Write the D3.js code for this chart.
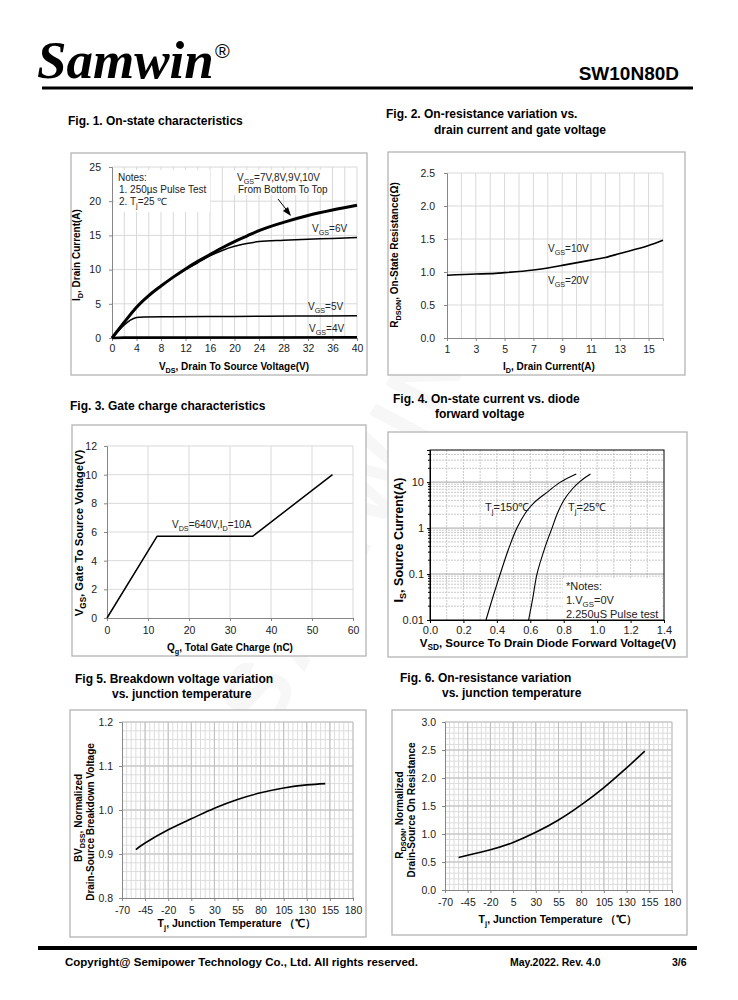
<!DOCTYPE html>
<html>
<head>
<meta charset="utf-8">
<script src="https://cdn.jsdelivr.net/npm/d3@7"></script>
<style>
body { margin: 0; background: #fff; }
</style>
</head>
<body>
<svg id="page" width="738" height="1000"></svg>
<script>
// ---- data ----
// Fig 1: on-state characteristics
var fig1Vds       = [0, 2, 4, 6, 8, 10, 12, 14, 16, 18, 20, 22, 24, 28, 32, 36, 40];
var fig1Vgs7to10  = [0, 2.3, 4.5, 6.2, 7.6, 8.9, 10.1, 11.2, 12.2, 13.2, 14.1, 14.9, 15.7, 16.9, 17.9, 18.7, 19.4];
var fig1Vgs6      = [0, 2.3, 4.4, 6.2, 7.6, 8.9, 10.0, 11.0, 12.0, 12.8, 13.4, 13.8, 14.1, 14.3, 14.45, 14.55, 14.7];
var fig1Vgs5Vds   = [0, 1, 2, 3, 4, 4.5, 10, 20, 30, 40];
var fig1Vgs5      = [0, 1.0, 1.9, 2.6, 3.0, 3.05, 3.1, 3.15, 3.2, 3.25];
var fig1Vgs4Vds   = [0, 2, 40];
var fig1Vgs4      = [0, 0.05, 0.1];
var fig1XTicks    = [0, 4, 8, 12, 16, 20, 24, 28, 32, 36, 40];
var fig1YTicks    = [0, 5, 10, 15, 20, 25];

// Fig 2: Rds(on) vs drain current
var fig2Id        = [1, 3, 4, 5, 7, 8, 9, 11, 12, 13, 15, 16];
var fig2Rds       = [0.95, 0.97, 0.975, 0.99, 1.03, 1.06, 1.1, 1.18, 1.22, 1.28, 1.4, 1.48];
var fig2XTicks    = [1, 3, 5, 7, 9, 11, 13, 15];
var fig2YTicks    = [0, 0.5, 1.0, 1.5, 2.0, 2.5];

// Fig 3: gate charge
var fig3Qg        = [0, 12.2, 35.5, 55];
var fig3Vgs       = [0, 5.7, 5.7, 10];
var fig3XTicks    = [0, 10, 20, 30, 40, 50, 60];
var fig3YTicks    = [0, 2, 4, 6, 8, 10, 12];

// Fig 4: body diode forward voltage
var fig4Vsd150    = [0.335, 0.38, 0.42, 0.47, 0.52, 0.57, 0.62, 0.70, 0.78, 0.875];
var fig4Is150     = [0.01, 0.035, 0.1, 0.35, 1, 2.1, 3.5, 6, 10, 15];
var fig4Vsd25     = [0.59, 0.615, 0.64, 0.69, 0.73, 0.76, 0.80, 0.85, 0.90, 0.96];
var fig4Is25      = [0.01, 0.03, 0.1, 0.4, 1, 2, 4, 7, 10.5, 15];
var fig4XTicks    = [0, 0.2, 0.4, 0.6, 0.8, 1.0, 1.2, 1.4];
var fig4YTicks    = [0.01, 0.1, 1, 10];

// Fig 5 / Fig 6: vs junction temperature
var tempTj        = [-55, -45, -20, 5, 30, 55, 80, 105, 130, 150];
var fig5BvNorm    = [0.91, 0.925, 0.955, 0.98, 1.004, 1.024, 1.039, 1.05, 1.057, 1.06];
var fig6RdsNorm   = [0.58, 0.62, 0.72, 0.85, 1.03, 1.25, 1.52, 1.83, 2.18, 2.48];
var tempXTicks    = [-70, -45, -20, 5, 30, 55, 80, 105, 130, 155, 180];
var fig5YTicks    = [0.8, 0.9, 1.0, 1.1, 1.2];
var fig6YTicks    = [0, 0.5, 1.0, 1.5, 2.0, 2.5, 3.0];

var SANS = "'Liberation Sans', Arial, sans-serif";

var svg = d3.select("#page");

// text with optional subscript pieces: parts = ["I", ["D","sub"], ", Drain..."]
function richText(parent, x, y, parts, size, opts) {
    opts = opts || {};
    var t = parent.append("text")
        .attr("x", x)
        .attr("y", y)
        .attr("font-size", size)
        .attr("font-family", SANS)
        .attr("font-weight", opts.weight || "normal")
        .attr("text-anchor", opts.anchor || "start")
        .attr("fill", opts.fill || "#000");
    if (opts.rotate) t.attr("transform", "rotate(" + opts.rotate + "," + x + "," + y + ")");
    var shift = 0;
    parts.forEach(function(p) {
        var str = typeof p === "string" ? p : p[0];
        var sub = typeof p !== "string" && p[1] === "sub";
        var s = t.append("tspan").text(str);
        if (sub) {
            s.attr("font-size", size * 0.72).attr("dy", size * 0.25 - shift);
            shift = size * 0.25;
        } else if (shift) {
            s.attr("dy", -shift);
            shift = 0;
        }
    });
    return t;
}

function drawBox(x0, y0, x1, y1) {
    svg.append("rect")
        .attr("x", x0).attr("y", y0)
        .attr("width", x1 - x0).attr("height", y1 - y0)
        .attr("fill", "#fff")
        .attr("stroke", "#b4b4b4")
        .attr("stroke-width", 1.3);
}

function vGrid(g, x, y, values, color, dash, width) {
    g.selectAll(null).data(values).enter().append("line")
        .attr("x1", function(d) { return x(d); })
        .attr("x2", function(d) { return x(d); })
        .attr("y1", y.range()[0])
        .attr("y2", y.range()[1])
        .attr("stroke", color)
        .attr("stroke-width", width || 1)
        .attr("stroke-dasharray", dash || null);
}

function hGrid(g, x, y, values, color, dash, width) {
    g.selectAll(null).data(values).enter().append("line")
        .attr("y1", function(d) { return y(d); })
        .attr("y2", function(d) { return y(d); })
        .attr("x1", x.range()[0])
        .attr("x2", x.range()[1])
        .attr("stroke", color)
        .attr("stroke-width", width || 1)
        .attr("stroke-dasharray", dash || null);
}

function curve(g, x, y, xs, ys, width, interp) {
    var pts = xs.map(function(d, i) { return [d, ys[i]]; });
    g.append("path")
        .datum(pts)
        .attr("fill", "none")
        .attr("stroke", "#000")
        .attr("stroke-width", width || 1.5)
        .attr("stroke-linejoin", "round")
        .attr("d", d3.line()
            .x(function(d) { return x(d[0]); })
            .y(function(d) { return y(d[1]); })
            .curve(interp || d3.curveLinear));
}

function styleAxis(a, size, color) {
    a.select(".domain").attr("stroke", color || "#868686");
    a.selectAll(".tick line").attr("stroke", color || "#868686");
    a.selectAll(".tick text")
        .attr("font-size", size)
        .attr("font-family", SANS)
        .attr("fill", "#222");
}

function plain(d) { return String(d); }

// ---------------- header ----------------
svg.append("text")
    .attr("x", 37).attr("y", 78)
    .attr("font-family", "'Liberation Serif', 'Times New Roman', serif")
    .attr("font-style", "italic")
    .attr("font-weight", "bold")
    .attr("font-size", 53)
    .text("Samwin");
svg.append("text")
    .attr("x", 215).attr("y", 58)
    .attr("font-family", SANS)
    .attr("font-size", 20)
    .text("®");
svg.append("text")
    .attr("x", 679).attr("y", 80)
    .attr("text-anchor", "end")
    .attr("font-family", SANS)
    .attr("font-weight", "bold")
    .attr("font-size", 19)
    .text("SW10N80D");
svg.append("line")
    .attr("x1", 42).attr("x2", 693).attr("y1", 88).attr("y2", 88)
    .attr("stroke", "#000").attr("stroke-width", 3);

// ---------------- figure titles ----------------
function title(x, y, str) {
    svg.append("text").attr("x", x).attr("y", y)
        .attr("font-family", SANS).attr("font-weight", "bold")
        .attr("font-size", 12).text(str);
}
title(68, 125, "Fig. 1. On-state characteristics");
title(386, 118, "Fig. 2. On-resistance variation vs.");
title(434, 134, "drain current and gate voltage");
title(70, 410, "Fig. 3. Gate charge characteristics");
title(393, 403, "Fig. 4. On-state current vs. diode");
title(435, 418, "forward voltage");
title(75, 683, "Fig 5. Breakdown voltage variation");
title(112, 698, "vs. junction temperature");
title(400, 682, "Fig. 6. On-resistance variation");
title(442, 697, "vs. junction temperature");

// faint watermark, under the white figure boxes mostly
svg.append("text")
    .attr("transform", "translate(372,545) rotate(-62)")
    .attr("text-anchor", "middle")
    .attr("font-family", SANS)
    .attr("font-weight", "bold")
    .attr("font-size", 92)
    .attr("letter-spacing", 8)
    .attr("fill", "#000")
    .attr("fill-opacity", 0.03)
    .text("SAMWIN");

// ---------------- Fig 1 ----------------
drawBox(71, 153, 367, 375);
var g1 = svg.append("g");
var x1 = d3.scaleLinear().domain([0, 40]).range([112, 357]);
var y1 = d3.scaleLinear().domain([0, 25]).range([338, 167]);
vGrid(g1, x1, y1, d3.range(2, 41, 2), "#d9d9d9");
hGrid(g1, x1, y1, [5, 10, 15, 20, 25], "#d9d9d9");
// white panels behind the notes
g1.append("rect").attr("x", 114).attr("y", 170).attr("width", 96).attr("height", 42).attr("fill", "#fff");
g1.append("rect").attr("x", 233).attr("y", 170).attr("width", 96).attr("height", 25).attr("fill", "#fff");
var ax1 = g1.append("g").attr("transform", "translate(0,338)")
    .call(d3.axisBottom(x1).tickValues(fig1XTicks).tickSize(3).tickPadding(4));
styleAxis(ax1, 10.5);
var ay1 = g1.append("g").attr("transform", "translate(112,0)")
    .call(d3.axisLeft(y1).tickValues(fig1YTicks).tickSize(3).tickPadding(8));
styleAxis(ay1, 10.5);
curve(g1, x1, y1, fig1Vgs4Vds, fig1Vgs4, 2.6);
curve(g1, x1, y1, fig1Vgs5Vds, fig1Vgs5, 1.5, d3.curveMonotoneX);
curve(g1, x1, y1, fig1Vds, fig1Vgs6, 1.5, d3.curveMonotoneX);
curve(g1, x1, y1, fig1Vds, fig1Vgs7to10, 3, d3.curveMonotoneX);
// arrow
g1.append("line").attr("x1", 278).attr("y1", 199).attr("x2", 289).attr("y2", 213)
    .attr("stroke", "#000").attr("stroke-width", 1);
g1.append("path").attr("d", "M291,216 L283,211 L288,207 Z").attr("fill", "#000");
richText(g1, 118, 181, ["Notes:"], 10, {fill: "#222"});
richText(g1, 119, 193, ["1. 250µs  Pulse Test"], 10, {fill: "#222"});
richText(g1, 119, 205, ["2. T", ["j", "sub"], "=25 ℃"], 10, {fill: "#222"});
richText(g1, 237, 181, ["V", ["GS", "sub"], "=7V,8V,9V,10V"], 10, {fill: "#222"});
richText(g1, 238, 193, ["From Bottom To Top"], 10, {fill: "#222"});
richText(g1, 312, 232, ["V", ["GS", "sub"], "=6V"], 10, {fill: "#222"});
richText(g1, 308, 310, ["V", ["GS", "sub"], "=5V"], 10, {fill: "#222"});
richText(g1, 309, 332, ["V", ["GS", "sub"], "=4V"], 10, {fill: "#222"});
richText(g1, 234, 370, ["V", ["DS", "sub"], ", Drain To Source Voltage(V)"], 10, {weight: "bold", anchor: "middle"});
richText(g1, 80, 255, ["I", ["D", "sub"], ",  Drain Current(A)"], 10, {weight: "bold", anchor: "middle", rotate: -90});

// ---------------- Fig 2 ----------------
drawBox(388, 152, 685, 375);
var g2 = svg.append("g");
var x2 = d3.scaleLinear().domain([1, 16]).range([447, 663]);
var y2 = d3.scaleLinear().domain([0, 2.5]).range([338, 173]);
vGrid(g2, x2, y2, d3.range(2, 17, 1), "#d9d9d9");
hGrid(g2, x2, y2, [0.5, 1.0, 1.5, 2.0, 2.5], "#d9d9d9");
var ax2 = g2.append("g").attr("transform", "translate(0,338)")
    .call(d3.axisBottom(x2).tickValues(fig2XTicks).tickSize(3).tickPadding(5));
styleAxis(ax2, 10.5);
var ay2 = g2.append("g").attr("transform", "translate(447,0)")
    .call(d3.axisLeft(y2).tickValues(fig2YTicks).tickFormat(d3.format(".1f")).tickSize(3).tickPadding(9));
styleAxis(ay2, 10.5);
curve(g2, x2, y2, fig2Id, fig2Rds, 1.6, d3.curveMonotoneX);
richText(g2, 548, 252, ["V", ["GS", "sub"], "=10V"], 10, {fill: "#222"});
richText(g2, 548, 284, ["V", ["GS", "sub"], "=20V"], 10, {fill: "#222"});
richText(g2, 549, 370, ["I", ["D", "sub"], ", Drain Current(A)"], 10, {weight: "bold", anchor: "middle"});
richText(g2, 398, 255, ["R", ["DSON", "sub"], ", On-State Resistance(Ω)"], 10, {weight: "bold", anchor: "middle", rotate: -90});

// ---------------- Fig 3 ----------------
drawBox(72, 425, 366, 656);
var g3 = svg.append("g");
var x3 = d3.scaleLinear().domain([0, 60]).range([107, 353]);
var y3 = d3.scaleLinear().domain([0, 12]).range([618, 446]);
vGrid(g3, x3, y3, [10, 20, 30, 40, 50, 60], "#d9d9d9");
hGrid(g3, x3, y3, [2, 4, 6, 8, 10, 12], "#d9d9d9");
var ax3 = g3.append("g").attr("transform", "translate(0,618)")
    .call(d3.axisBottom(x3).tickValues(fig3XTicks).tickSize(3).tickPadding(6));
styleAxis(ax3, 10.5);
var ay3 = g3.append("g").attr("transform", "translate(107,0)")
    .call(d3.axisLeft(y3).tickValues(fig3YTicks).tickSize(3).tickPadding(7));
styleAxis(ay3, 10.5);
curve(g3, x3, y3, fig3Qg, fig3Vgs, 1.5);
richText(g3, 172, 528, ["V", ["DS", "sub"], "=640V,I", ["D", "sub"], "=10A"], 10, {fill: "#222"});
richText(g3, 230, 651, ["Q", ["g", "sub"], ", Total Gate Charge (nC)"], 10, {weight: "bold", anchor: "middle"});
richText(g3, 83, 533, ["V", ["GS", "sub"], ",  Gate To  Source Voltage(V)"], 11.3, {weight: "bold", anchor: "middle", rotate: -90});

// ---------------- Fig 4 ----------------
drawBox(388, 432, 687, 657);
var g4 = svg.append("g");
var x4 = d3.scaleLinear().domain([0, 1.4]).range([430, 664]);
var y4 = d3.scaleLog().domain([0.01, 50]).range([620, 450]);
var fig4Minor = [];
[0.01, 0.1, 1, 10].forEach(function(dec) {
    for (var k = 2; k <= 9; k++) if (dec * k < 50) fig4Minor.push(dec * k);
});
vGrid(g4, x4, y4, d3.range(0.1, 1.4, 0.1), "#bdbdbd", "2,1", 0.8);
hGrid(g4, x4, y4, fig4Minor, "#bdbdbd", "2,1", 0.8);
hGrid(g4, x4, y4, [0.1, 1, 10], "#9a9a9a", null, 0.9);
// white panel behind notes
g4.append("rect").attr("x", 563).attr("y", 578).attr("width", 99).attr("height", 41).attr("fill", "#fff");
var ax4 = g4.append("g").attr("transform", "translate(0,620)")
    .call(d3.axisBottom(x4).tickValues(fig4XTicks).tickFormat(d3.format(".1f")).tickSize(3).tickPadding(3));
styleAxis(ax4, 11, "#000");
var ay4 = g4.append("g").attr("transform", "translate(430,0)")
    .call(d3.axisLeft(y4).tickValues(fig4YTicks).tickFormat(plain).tickSize(3).tickPadding(3));
styleAxis(ay4, 11, "#000");
// minor ticks
g4.selectAll(null).data(fig4Minor).enter().append("line")
    .attr("x1", 430).attr("x2", 428)
    .attr("y1", function(d) { return y4(d); }).attr("y2", function(d) { return y4(d); })
    .attr("stroke", "#000");
g4.append("rect").attr("x", 430).attr("y", 450).attr("width", 234).attr("height", 170)
    .attr("fill", "none").attr("stroke", "#000").attr("stroke-width", 1);
curve(g4, x4, y4, fig4Vsd150, fig4Is150, 1.1, d3.curveCatmullRom);
curve(g4, x4, y4, fig4Vsd25, fig4Is25, 1.1, d3.curveCatmullRom);
richText(g4, 485, 511, ["T", ["j", "sub"], "=150℃"], 11, {fill: "#222"});
richText(g4, 568, 511, ["T", ["j", "sub"], "=25℃"], 11, {fill: "#222"});
richText(g4, 566, 590, ["*Notes:"], 11, {fill: "#222"});
richText(g4, 566, 604, ["1.V", ["GS", "sub"], "=0V"], 11, {fill: "#222"});
richText(g4, 566, 618, ["2.250uS Pulse test"], 11, {fill: "#222"});
richText(g4, 548, 647, ["V", ["SD", "sub"], ", Source To Drain Diode Forward Voltage(V)"], 11.5, {weight: "bold", anchor: "middle"});
richText(g4, 403, 540, ["I", ["S", "sub"], ", Source Current(A)"], 12.5, {weight: "bold", anchor: "middle", rotate: -90});

// ---------------- Fig 5 ----------------
drawBox(70, 710, 366, 937);
var g5 = svg.append("g");
var x5 = d3.scaleLinear().domain([-70, 180]).range([122, 353]);
var y5 = d3.scaleLinear().domain([0.8, 1.2]).range([898, 722]);
vGrid(g5, x5, y5, d3.range(-65, 181, 5), "#dcdcdc");
hGrid(g5, x5, y5, d3.range(0.82, 1.2001, 0.02), "#dcdcdc");
vGrid(g5, x5, y5, d3.range(-45, 181, 25), "#bdbdbd");
hGrid(g5, x5, y5, [0.9, 1.0, 1.1, 1.2], "#bdbdbd");
var ax5 = g5.append("g").attr("transform", "translate(0,898)")
    .call(d3.axisBottom(x5).tickValues(tempXTicks).tickFormat(plain).tickSize(3).tickPadding(6));
styleAxis(ax5, 10.5);
var ay5 = g5.append("g").attr("transform", "translate(122,0)")
    .call(d3.axisLeft(y5).tickValues(fig5YTicks).tickFormat(d3.format(".1f")).tickSize(3).tickPadding(6));
styleAxis(ay5, 10.5);
curve(g5, x5, y5, tempTj, fig5BvNorm, 1.6, d3.curveNatural);
richText(g5, 237, 927, ["T", ["j", "sub"], ", Junction Temperature  （℃）"], 10.5, {weight: "bold", anchor: "middle"});
richText(g5, 82, 818, ["BV", ["DSS", "sub"], ", Normalized"], 10, {weight: "bold", anchor: "middle", rotate: -90});
richText(g5, 94, 822, ["Drain-Source Breakdown Voltage"], 10, {weight: "bold", anchor: "middle", rotate: -90});

// ---------------- Fig 6 ----------------
drawBox(392, 710, 687, 935);
var g6 = svg.append("g");
var x6 = d3.scaleLinear().domain([-70, 180]).range([445, 672]);
var y6 = d3.scaleLinear().domain([0, 3]).range([890, 722]);
vGrid(g6, x6, y6, d3.range(-65, 181, 5), "#dcdcdc");
hGrid(g6, x6, y6, d3.range(0.1, 3.001, 0.1), "#dcdcdc");
vGrid(g6, x6, y6, d3.range(-45, 181, 25), "#bdbdbd");
hGrid(g6, x6, y6, [0.5, 1.0, 1.5, 2.0, 2.5, 3.0], "#bdbdbd");
var ax6 = g6.append("g").attr("transform", "translate(0,890)")
    .call(d3.axisBottom(x6).tickValues(tempXTicks).tickFormat(plain).tickSize(3).tickPadding(6));
styleAxis(ax6, 10.5);
var ay6 = g6.append("g").attr("transform", "translate(445,0)")
    .call(d3.axisLeft(y6).tickValues(fig6YTicks).tickFormat(d3.format(".1f")).tickSize(3).tickPadding(6));
styleAxis(ay6, 10.5);
curve(g6, x6, y6, tempTj, fig6RdsNorm, 1.6, d3.curveNatural);
richText(g6, 558, 923, ["T", ["j", "sub"], ", Junction Temperature  （℃）"], 10.5, {weight: "bold", anchor: "middle"});
richText(g6, 403, 815, ["R", ["DSON", "sub"], ", Normalized"], 10, {weight: "bold", anchor: "middle", rotate: -90});
richText(g6, 415, 810, ["Drain-Source On Resistance"], 10, {weight: "bold", anchor: "middle", rotate: -90});

// ---------------- footer ----------------
svg.append("line")
    .attr("x1", 38).attr("x2", 697).attr("y1", 948).attr("y2", 948)
    .attr("stroke", "#000").attr("stroke-width", 4);
svg.append("text").attr("x", 65).attr("y", 966)
    .attr("font-family", SANS).attr("font-weight", "bold").attr("font-size", 11.5)
    .text("Copyright@ Semipower Technology Co., Ltd. All rights reserved.");
svg.append("text").attr("x", 510).attr("y", 966)
    .attr("font-family", SANS).attr("font-weight", "bold").attr("font-size", 10.5)
    .text("May.2022. Rev. 4.0");
svg.append("text").attr("x", 672).attr("y", 966)
    .attr("font-family", SANS).attr("font-weight", "bold").attr("font-size", 10.5)
    .text("3/6");
</script>
</body>
</html>
